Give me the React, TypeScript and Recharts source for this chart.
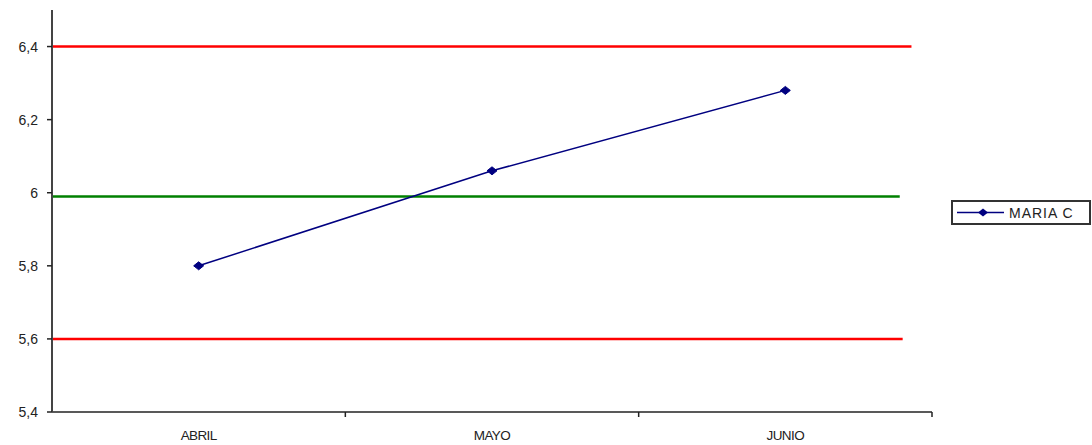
import React from 'react'
import {
  LineChart,
  Line,
  XAxis,
  YAxis,
  ReferenceLine,
  Legend,
} from 'recharts'

const months = ['ABRIL', 'MAYO', 'JUNIO']
const mariaC = [5.8, 6.06, 6.28]
const yTicks = [5.4, 5.6, 5.8, 6, 6.2, 6.4]

// control limits: value, and how far along the category span (0..3) the line is drawn
const upperLimit = 6.4
const upperEnd = 2.93
const centerLine = 5.99
const centerEnd = 2.89
const lowerLimit = 5.6
const lowerEnd = 2.9

const data = months.map((m, i) => ({ month: m, value: mariaC[i] }))

const fmt = (v: number) => String(Math.round(v * 10) / 10).replace('.', ',')

function Diamond(props: any) {
  const { cx, cy } = props
  if (cx == null || cy == null) return null
  return (
    <polygon
      points={`${cx - 5},${cy} ${cx},${cy - 4} ${cx + 5},${cy} ${cx},${cy + 4}`}
      fill="#000080"
      stroke="#000080"
    />
  )
}

function MonthTick(props: any) {
  const { x, y, payload } = props
  const axisY = y - 13
  const edge = x + (payload.offset || 0)
  return (
    <g>
      <line x1={edge} y1={axisY} x2={edge} y2={axisY + 5} stroke="#222" strokeWidth={1.5} />
      <text x={x} y={y + 15} textAnchor="middle" fill="#222" fontSize={13.5} letterSpacing={-0.6}>
        {payload.value}
      </text>
    </g>
  )
}

// shortened limit line: stops at `end` out of the 3 category bands
const limitShape = (end: number, color: string) => (p: any) => (
  <line
    x1={p.x1}
    y1={p.y1}
    x2={p.x1 + ((p.x2 - p.x1) * end) / months.length}
    y2={p.y2}
    stroke={color}
    strokeWidth={2.5}
  />
)

function LegendBox() {
  return (
    <div
      style={{
        border: '2px solid #333',
        width: 136,
        height: 21,
        display: 'flex',
        alignItems: 'center',
        background: '#fff',
        fontFamily: '"Liberation Sans", Arial, sans-serif',
      }}
    >
      <svg width={56} height={21}>
        <line x1={4} y1={10.5} x2={51} y2={10.5} stroke="#000080" strokeWidth={1.5} />
        <polygon points="25,10.5 30,6.5 35,10.5 30,14.5" fill="#000080" />
      </svg>
      <span style={{ fontSize: 14, color: '#222', letterSpacing: 1 }}>MARIA C</span>
    </div>
  )
}

export default function App() {
  return (
    <div style={{ position: 'absolute', left: 0, top: 0, width: 1092, height: 445, background: '#fff' }}>
      <LineChart
        width={1092}
        height={445}
        data={data}
        margin={{ top: 10, right: 160, bottom: 3, left: 0 }}
        style={{ fontFamily: '"Liberation Sans", Arial, sans-serif' }}
      >
        <XAxis
          dataKey="month"
          scale="band"
          height={30}
          stroke="#222"
          strokeWidth={1.5}
          tickLine={false}
          tickSize={5}
          tickMargin={8}
          tick={<MonthTick />}
          interval={0}
        />
        <YAxis
          width={52}
          domain={[5.4, 6.5]}
          ticks={yTicks}
          tickFormatter={fmt}
          stroke="#444"
          strokeWidth={2}
          tickSize={5}
          tickMargin={9}
          tick={{ fill: '#222', fontSize: 14 }}
          tickLine={{ stroke: '#222', strokeWidth: 1.5 }}
        />
        <ReferenceLine y={upperLimit} shape={limitShape(upperEnd, '#ff0000')} />
        <ReferenceLine y={centerLine} shape={limitShape(centerEnd, '#008000')} />
        <ReferenceLine y={lowerLimit} shape={limitShape(lowerEnd, '#ff0000')} />
        <Line
          dataKey="value"
          name="MARIA C"
          stroke="#000080"
          strokeWidth={1.5}
          dot={<Diamond />}
          activeDot={false}
          isAnimationActive={false}
        />
        <Legend
          layout="vertical"
          align="center"
          verticalAlign="middle"
          content={() => <LegendBox />}
          wrapperStyle={{ left: 951, top: 200, width: 140 }}
        />
      </LineChart>
    </div>
  )
}
